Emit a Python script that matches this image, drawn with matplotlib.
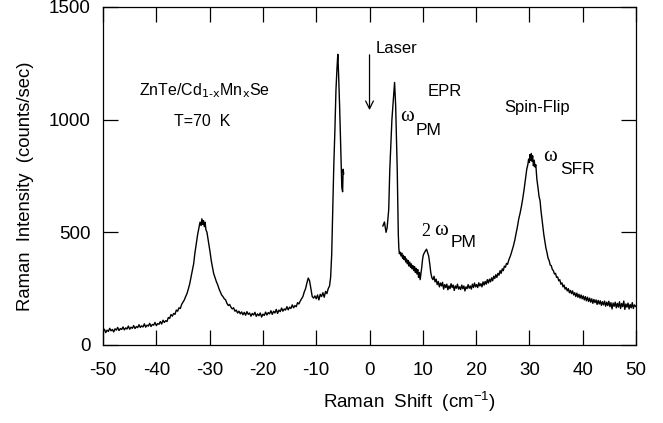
import matplotlib
matplotlib.use("Agg")
import matplotlib.pyplot as plt

plt.rcParams['font.family'] = ['Liberation Sans', 'DejaVu Sans']
plt.rcParams['axes.unicode_minus'] = False

# anti-Stokes side
left_shift = [-50, -49.75, -49.5, -49.25, -49, -48.75, -48.5, -48.25, -48, -47.75, -47.5, -47.25,
              -47, -46.75, -46.5, -46.25, -46, -45.75, -45.5, -45.25, -45, -44.75, -44.5, -44.25,
              -44, -43.75, -43.5, -43.25, -43, -42.75, -42.5, -42.25, -42, -41.75, -41.5, -41.25,
              -41, -40.75, -40.5, -40.25, -40, -39.75, -39.5, -39.25, -39, -38.75, -38.5, -38.25,
              -38, -37.75, -37.5, -37.25, -37, -36.75, -36.5, -36.25, -36, -35.75, -35.5, -35.25,
              -35, -34.75, -34.5, -34.25, -34, -33.75, -33.5, -33.25, -33, -32.75, -32.5, -32.25,
              -32, -31.8, -31.6, -31.45, -31.3, -31.15, -31, -30.85, -30.7, -30.5, -30.3, -30.1,
              -29.9, -29.7, -29.5, -29.25, -29, -28.75, -28.5, -28.25, -28, -27.75, -27.5, -27.25,
              -27, -26.75, -26.5, -26.25, -26, -25.75, -25.5, -25.25, -25, -24.75, -24.5, -24.25,
              -24, -23.75, -23.5, -23.25, -23, -22.75, -22.5, -22.25, -22, -21.75, -21.5, -21.25,
              -21, -20.75, -20.5, -20.25, -20, -19.75, -19.5, -19.25, -19, -18.75, -18.5, -18.25,
              -18, -17.75, -17.5, -17.25, -17, -16.75, -16.5, -16.25, -16, -15.75, -15.5, -15.25,
              -15, -14.75, -14.5, -14.25, -14, -13.75, -13.5, -13.25, -13, -12.75, -12.5, -12.25,
              -12, -11.75, -11.5, -11.25, -11, -10.75, -10.5, -10.25, -10, -9.75, -9.5, -9.25,
              -9, -8.75, -8.5, -8.25, -8, -7.75, -7.5, -7.3, -7.1, -6.9, -6.7, -6.5, -6.3, -6.1,
              -5.95, -5.8, -5.6, -5.4, -5.2, -5.05, -4.95, -4.85]
left_counts = [62, 70, 55, 66, 60, 74, 63, 69, 58, 72, 66, 78,
               64, 73, 69, 80, 67, 76, 71, 84, 70, 79, 74, 86,
               73, 82, 77, 90, 78, 85, 80, 94, 79, 88, 84, 96,
               82, 91, 88, 100, 86, 95, 92, 104, 93, 110, 100, 108,
               104, 122, 118, 135, 128, 140, 136, 155, 150, 165, 162, 180,
               190, 200, 215, 228, 248, 270, 300, 330, 360, 410, 450, 490,
               520, 545, 530, 560, 535, 552, 525, 545, 512, 500, 470, 440,
               410, 375, 350, 318, 300, 282, 268, 250, 236, 222, 215, 205,
               200, 185, 175, 180, 168, 160, 165, 150, 155, 142, 150, 138,
               147, 134, 145, 132, 148, 136, 142, 128, 140, 133, 145, 127,
               138, 130, 142, 124, 137, 131, 146, 133, 144, 138, 152, 136,
               150, 142, 158, 140, 155, 148, 164, 150, 160, 155, 170, 156,
               168, 162, 178, 165, 175, 170, 188, 182, 195, 205, 215, 235,
               250, 275, 297, 285, 250, 215, 208, 218, 205, 222, 200, 225,
               215, 232, 212, 238, 228, 250, 262, 300, 400, 600, 800, 950, 1130, 1230,
               1290, 1200, 1050, 880, 700, 680, 780, 760]

# Stokes side
right_shift = [2.5, 2.8, 3.1, 3.3, 3.6, 3.8, 4.2, 4.5, 4.7, 4.9, 5.2, 5.4, 5.5, 5.6, 5.75, 5.9,
               6.05, 6.2, 6.35, 6.5, 6.65, 6.8, 6.95, 7.1, 7.25, 7.4, 7.55, 7.7, 7.85, 8.0,
               8.15, 8.3, 8.45, 8.6, 8.75, 8.9, 9.05, 9.2, 9.35, 9.5, 9.65, 9.8, 9.95, 10.1,
               10.3, 10.5, 10.7, 10.9, 11.1, 11.3, 11.5, 11.7, 11.9, 12.1, 12.3, 12.5, 12.7,
               12.9, 13.1, 13.3, 13.5, 13.7, 13.9, 14.1, 14.3, 14.5, 14.7, 14.9, 15.1, 15.3,
               15.5, 15.7, 15.9, 16.1, 16.3, 16.5, 16.7, 16.9, 17.1, 17.3, 17.5, 17.7, 17.9,
               18.1, 18.3, 18.5, 18.7, 18.9, 19.1, 19.3, 19.5, 19.7, 19.9, 20.1, 20.3, 20.5,
               20.7, 20.9, 21.1, 21.3, 21.5, 21.7, 21.9, 22.1, 22.3, 22.5, 22.7, 22.9, 23.1,
               23.3, 23.5, 23.7, 23.9, 24.1, 24.3, 24.5, 24.7, 24.9, 25.1, 25.3, 25.5, 25.7,
               25.9, 26.1, 26.3, 26.5, 26.75, 27, 27.25, 27.5, 27.75, 28, 28.25, 28.5, 28.75,
               29, 29.25, 29.5, 29.7, 29.85, 30.0, 30.1, 30.2, 30.35, 30.5, 30.6, 30.75, 30.9,
               31.05, 31.2, 31.4, 31.6, 31.8, 32.0, 32.15, 32.3, 32.5, 32.7, 32.9, 33.1, 33.3,
               33.5, 33.7, 33.9, 34.1, 34.3, 34.5, 34.7, 34.9, 35.1, 35.3, 35.5, 35.7, 35.9,
               36.1, 36.3, 36.5, 36.7, 36.9, 37.1, 37.3, 37.5, 37.7, 37.9, 38.1, 38.3, 38.5,
               38.7, 38.9, 39.1, 39.3, 39.5, 39.7, 39.9, 40.1, 40.3, 40.5, 40.7, 40.9, 41.1,
               41.3, 41.5, 41.7, 41.9, 42.1, 42.3, 42.5, 42.7, 42.9, 43.1, 43.3, 43.5, 43.7,
               43.9, 44.1, 44.3, 44.5, 44.7, 44.9, 45.1, 45.3, 45.5, 45.7, 45.9, 46.1, 46.3,
               46.5, 46.7, 46.9, 47.1, 47.3, 47.5, 47.7, 47.9, 48.1, 48.3, 48.5, 48.7, 48.9,
               49.1, 49.3, 49.5, 49.7, 50.0]
right_counts = [528, 546, 500, 520, 600, 777, 1000, 1100, 1165, 1065, 777, 490, 430, 405, 412, 395,
                408, 385, 398, 378, 392, 368, 382, 360, 375, 350, 368, 345, 360, 338,
                352, 330, 348, 322, 340, 315, 335, 300, 322, 290, 318, 345, 380, 400,
                410, 418, 425, 410, 395, 360, 320, 298, 290, 305, 280, 292, 268,
                282, 258, 275, 262, 278, 248, 268, 255, 270, 245, 262, 250, 272,
                255, 266, 242, 262, 252, 270, 248, 258, 246, 266, 250, 262, 240,
                258, 250, 268, 252, 262, 248, 270, 255, 275, 258, 268, 255, 276,
                262, 272, 258, 280, 266, 282, 270, 290, 275, 292, 280, 298, 285,
                305, 295, 312, 300, 318, 310, 330, 318, 338, 330, 350, 345, 362,
                358, 375, 388, 400, 420, 440, 465, 495, 525, 560, 585, 615, 650,
                690, 735, 780, 800, 825, 810, 845, 820, 850, 815, 840, 795, 820,
                790, 800, 735, 700, 660, 640, 600, 570, 530, 490, 460, 430, 410,
                385, 375, 355, 352, 335, 330, 315, 318, 300, 302, 285, 290, 270,
                276, 258, 266, 248, 255, 240, 250, 232, 242, 228, 240, 222, 232,
                215, 230, 212, 225, 208, 222, 205, 218, 200, 215, 196, 212, 193,
                208, 190, 205, 185, 202, 188, 200, 180, 198, 182, 196, 176, 192,
                178, 195, 172, 190, 175, 194, 170, 188, 160, 186, 172, 190, 165,
                185, 168, 192, 162, 184, 170, 195, 158, 182, 168, 186, 160, 180,
                165, 188, 162, 178, 170]

fig = plt.figure(figsize=(6.63, 4.23), dpi=100)
ax = fig.add_axes([0.1554, 0.1844, 0.8039, 0.7991])

ax.plot(left_shift, left_counts, color='black', lw=1.0)
ax.plot(right_shift, right_counts, color='black', lw=1.0)

ax.set_xlim(-50, 50)
ax.set_ylim(0, 1500)
ax.set_xticks(range(-50, 51, 10))
ax.set_yticks([0, 500, 1000, 1500])
ax.tick_params(direction='in', length=11, width=0.9, top=True, right=True, labelsize=13.5)
ax.tick_params(axis='x', pad=12)
ax.tick_params(axis='y', pad=9)
for s in ax.spines.values():
    s.set_linewidth(0.9)

ax.set_xlabel(r'Raman  Shift  (cm$^{\mathregular{-1}}$)', fontsize=13.5)
ax.xaxis.set_label_coords(0.575, -0.13)
ax.set_ylabel('Raman  Intensity  (counts/sec)', fontsize=13.3)
ax.yaxis.set_label_coords(-0.13, 0.47)

ax.text(-30.9, 1127, r'ZnTe/Cd$_{\text{1-x}}$Mn$_{\text{x}}$Se',
        ha='center', va='center', fontsize=11.5)
ax.text(-31.4, 994, 'T=70  K', ha='center', va='center', fontsize=11.5)

ax.text(1.2, 1314, 'Laser', ha='left', va='center', fontsize=12)
ax.annotate('', xy=(0, 1030), xytext=(0, 1300),
            arrowprops=dict(arrowstyle='->', color='black', lw=0.9, mutation_scale=14))

ax.text(14.2, 1127, 'EPR', ha='center', va='center', fontsize=12)
ax.text(7.1, 1015, 'ω', family='Liberation Serif', ha='center', va='center', fontsize=15)
ax.text(11.1, 954, 'PM', ha='center', va='center', fontsize=12.5)

ax.text(10.6, 505, '2', family='Liberation Serif', ha='center', va='center', fontsize=13)
ax.text(13.5, 510, 'ω', family='Liberation Serif', ha='center', va='center', fontsize=15)
ax.text(17.6, 457, 'PM', ha='center', va='center', fontsize=12.5)

ax.text(31.4, 1052, 'Spin-Flip', ha='center', va='center', fontsize=12)
ax.text(33.9, 835, 'ω', family='Liberation Serif', ha='center', va='center', fontsize=15)
ax.text(39.1, 781, 'SFR', ha='center', va='center', fontsize=12.5)

fig.savefig('out.png', dpi=100)
